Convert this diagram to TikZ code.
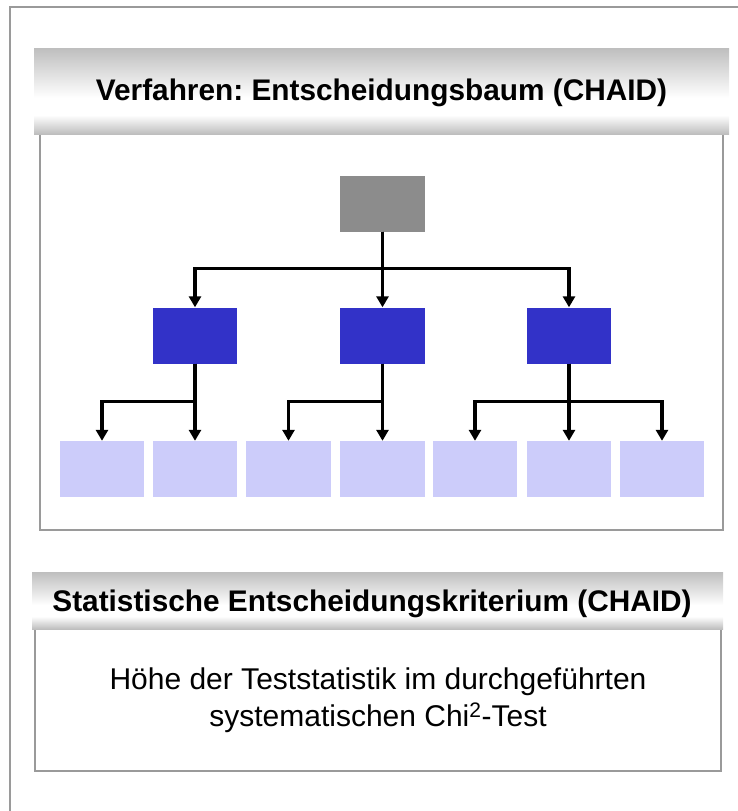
\documentclass[tikz,border=0pt]{standalone}
\usepackage{fontspec}
\setmainfont{Liberation Sans}
\usetikzlibrary{arrows.meta}

\definecolor{framegray}{HTML}{9A9A9A}
\definecolor{rootgray}{HTML}{8C8C8C}
\definecolor{midblue}{HTML}{3232C8}
\definecolor{leafblue}{HTML}{CCCCFA}
\definecolor{hdrgray}{HTML}{BEBEBE}
\pgfdeclareverticalshading{hdrshade}{100bp}{color(0bp)=(hdrgray); color(25bp)=(hdrgray); color(36bp)=(white); color(46bp)=(white); color(75bp)=(hdrgray); color(100bp)=(hdrgray)}

\tikzset{
  box/.style={rectangle, minimum width=84.5pt, minimum height=56pt, inner sep=0pt},
  hdrtext/.style={inner sep=0pt, font=\fontsize{29.8}{34}\selectfont\bfseries},
  panel/.style={draw=framegray, line width=1.5pt},
  arr/.style={line width=3.2pt, -{Triangle[length=11pt,width=12pt]}},
}

\begin{document}
\frenchspacing
\begin{tikzpicture}[x=1pt,y=-1pt]
  \useasboundingbox (0,0) rectangle (738,811);
  % frame and panels
  \draw[framegray, line width=2.5pt] (10,811) -- (10,7) -- (738,7);
  \draw[panel] (40,134) rectangle (723,530);
  \draw[panel] (35,629) rectangle (721,771);
  \shade[shading=hdrshade] (34,48) rectangle (729,134);
  \shade[shading=hdrshade] (32,572) rectangle (723,629);
  \node[hdrtext] (head1) at (381.5,92.5) {Verfahren: Entscheidungsbaum (CHAID)};
  \node[hdrtext] (head2) at (372,604) {Statistische Entscheidungskriterium (CHAID)};
  \node[align=center, font=\fontsize{30}{37}\selectfont] (crit) at (378,700) {Höhe der Teststatistik im durchgeführten\\systematischen Chi\textsuperscript{2}-Test};

  % tree
  \node[box, fill=rootgray] (root) at (382.5,203.5) {};
  \foreach \n/\x in {1/195,2/382.5,3/569}
    \node[box, fill=midblue] (m\n) at (\x,335.5) {};
  \foreach \n/\x in {1/102,2/195,3/288.5,4/382.5,5/475,6/569,7/662}
    \node[box, fill=leafblue] (l\n) at (\x,469) {};

  \foreach \c in {m1,m2,m3}
    \draw[arr] (root.south) -- ++(0,37) -| (\c.north);
  \foreach \p/\c in {m1/l1,m1/l2,m2/l3,m2/l4,m3/l5,m3/l6,m3/l7}
    \draw[arr] (\p.south) -- ++(0,38) -| (\c.north);
\end{tikzpicture}
\end{document}
